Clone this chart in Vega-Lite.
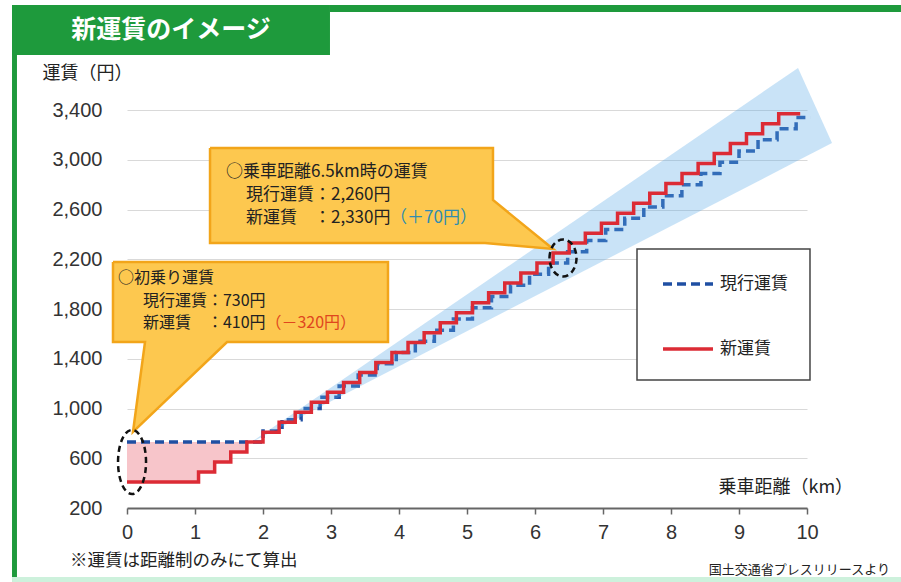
{
  "$schema": "https://vega.github.io/schema/vega-lite/v6.json",
  "width": 680,
  "height": 398,
  "autosize": {"type": "none"},
  "padding": {"left": 127, "top": 110, "right": 94, "bottom": 74},
  "background": "white",
  "config": {"view": {"stroke": null}},
  "datasets": {
    "red": [
      {"x":0,"y":410,"s":"新運賃"},{"x":1.052,"y":490,"s":"新運賃"},{"x":1.289,"y":570,"s":"新運賃"},{"x":1.526,"y":650,"s":"新運賃"},{"x":1.763,"y":730,"s":"新運賃"},{"x":2.0,"y":810,"s":"新運賃"},{"x":2.237,"y":890,"s":"新運賃"},{"x":2.474,"y":970,"s":"新運賃"},{"x":2.711,"y":1050,"s":"新運賃"},{"x":2.948,"y":1130,"s":"新運賃"},{"x":3.185,"y":1210,"s":"新運賃"},{"x":3.422,"y":1290,"s":"新運賃"},{"x":3.659,"y":1370,"s":"新運賃"},{"x":3.896,"y":1450,"s":"新運賃"},{"x":4.133,"y":1530,"s":"新運賃"},{"x":4.37,"y":1610,"s":"新運賃"},{"x":4.607,"y":1690,"s":"新運賃"},{"x":4.844,"y":1770,"s":"新運賃"},{"x":5.081,"y":1850,"s":"新運賃"},{"x":5.318,"y":1930,"s":"新運賃"},{"x":5.555,"y":2010,"s":"新運賃"},{"x":5.792,"y":2090,"s":"新運賃"},{"x":6.029,"y":2170,"s":"新運賃"},{"x":6.266,"y":2250,"s":"新運賃"},{"x":6.503,"y":2330,"s":"新運賃"},{"x":6.74,"y":2410,"s":"新運賃"},{"x":6.977,"y":2490,"s":"新運賃"},{"x":7.214,"y":2570,"s":"新運賃"},{"x":7.451,"y":2650,"s":"新運賃"},{"x":7.688,"y":2730,"s":"新運賃"},{"x":7.925,"y":2810,"s":"新運賃"},{"x":8.162,"y":2890,"s":"新運賃"},{"x":8.399,"y":2970,"s":"新運賃"},{"x":8.636,"y":3050,"s":"新運賃"},{"x":8.873,"y":3130,"s":"新運賃"},{"x":9.11,"y":3210,"s":"新運賃"},{"x":9.347,"y":3290,"s":"新運賃"},{"x":9.584,"y":3370,"s":"新運賃"},{"x":9.9,"y":3370,"s":"新運賃"}
    ],
    "blue": [
      {"x":0,"y":730,"s":"現行運賃"},{"x":2.0,"y":820,"s":"現行運賃"},{"x":2.28,"y":910,"s":"現行運賃"},{"x":2.56,"y":1000,"s":"現行運賃"},{"x":2.84,"y":1090,"s":"現行運賃"},{"x":3.12,"y":1180,"s":"現行運賃"},{"x":3.4,"y":1270,"s":"現行運賃"},{"x":3.68,"y":1360,"s":"現行運賃"},{"x":3.96,"y":1450,"s":"現行運賃"},{"x":4.24,"y":1540,"s":"現行運賃"},{"x":4.52,"y":1630,"s":"現行運賃"},{"x":4.8,"y":1720,"s":"現行運賃"},{"x":5.08,"y":1810,"s":"現行運賃"},{"x":5.36,"y":1900,"s":"現行運賃"},{"x":5.64,"y":1990,"s":"現行運賃"},{"x":5.92,"y":2080,"s":"現行運賃"},{"x":6.2,"y":2170,"s":"現行運賃"},{"x":6.48,"y":2260,"s":"現行運賃"},{"x":6.76,"y":2350,"s":"現行運賃"},{"x":7.04,"y":2440,"s":"現行運賃"},{"x":7.32,"y":2530,"s":"現行運賃"},{"x":7.6,"y":2620,"s":"現行運賃"},{"x":7.88,"y":2710,"s":"現行運賃"},{"x":8.16,"y":2800,"s":"現行運賃"},{"x":8.44,"y":2890,"s":"現行運賃"},{"x":8.72,"y":2980,"s":"現行運賃"},{"x":9.0,"y":3070,"s":"現行運賃"},{"x":9.28,"y":3160,"s":"現行運賃"},{"x":9.56,"y":3250,"s":"現行運賃"},{"x":9.84,"y":3340,"s":"現行運賃"},{"x":10.05,"y":3340,"s":"現行運賃"}
    ],
    "pink": [
      {"x":0,"y":410},{"x":1.052,"y":490},{"x":1.289,"y":570},{"x":1.526,"y":650},{"x":1.763,"y":730}
    ],
    "band": [
      {"x":1.8,"y":720,"y2":720},{"x":9.868,"y":2993,"y2":3738},{"x":10.368,"y":3135,"y2":3135}
    ],
    "callouts": [
      {"id":1,"i":0,"x":1.221,"y":3094.5},{"id":1,"i":1,"x":5.382,"y":3094.5},{"id":1,"i":2,"x":5.382,"y":2676.4},{"id":1,"i":3,"x":6.265,"y":2282.4},{"id":1,"i":4,"x":5.265,"y":2330.7},{"id":1,"i":5,"x":1.221,"y":2330.7},{"id":1,"i":6,"x":1.221,"y":3094.5},
      {"id":2,"i":0,"x":-0.206,"y":2178},{"id":2,"i":1,"x":3.838,"y":2178},{"id":2,"i":2,"x":3.838,"y":1534.7},{"id":2,"i":3,"x":1.471,"y":1534.7},{"id":2,"i":4,"x":0.088,"y":811.1},{"id":2,"i":5,"x":0.265,"y":1534.7},{"id":2,"i":6,"x":-0.206,"y":1534.7},{"id":2,"i":7,"x":-0.206,"y":2178}
    ],
    "legendBox": [{"x":7.5,"x2":10.044,"y":2282.4,"y2":1229.2}],
    "box1text": [
      {"x":1.456,"y":2901.5,"t":"○乗車距離6.5km時の運賃"},
      {"x":1.75,"y":2716.6,"t":"現行運賃：2,260円"},
      {"x":1.75,"y":2531.7,"t":"新運賃　：2,330円"}
    ],
    "box1plus": [{"x":3.868,"y":2531.7,"t":"（＋70円）"}],
    "box2text": [
      {"x":-0.132,"y":2049.2,"t":"○初乗り運賃"},
      {"x":0.235,"y":1864.4,"t":"現行運賃：730円"},
      {"x":0.235,"y":1687.5,"t":"新運賃　：410円"}
    ],
    "box2minus": [{"x":2.035,"y":1687.5,"t":"（－320円）"}],
    "ell1": [{"x":0.074,"y":570}],
    "ell2": [{"x":6.412,"y":2210}],
    "frameGreen": [
      {"x":-1.691,"x2":2.985,"y":3842,"y2":4244},
      {"x":2.985,"x2":11.5,"y":4188,"y2":4244},
      {"x":-1.691,"x2":-1.618,"y":-400,"y2":4244}
    ],
    "frameMint": [{"x":-1.691,"x2":11.5,"y":-400,"y2":-355}],
    "title": [{"x":0.647,"y":4043,"t":"新運賃のイメージ"}],
    "foot": [{"x":-0.838,"y":-226,"t":"※運賃は距離制のみにて算出"}],
    "source": [{"x":11.22,"y":-298,"t":"国土交通省プレスリリースより"}]
  },
  "encoding": {
    "x": {
      "field": "x", "type": "quantitative",
      "scale": {"domain": [0, 10], "nice": false, "zero": false},
      "axis": {
        "values": [0,0.5,1,1.5,2,2.5,3,3.5,4,4.5,5,5.5,6,6.5,7,7.5,8,8.5,9,9.5,10],
        "format": "d",
        "labelExpr": "datum.value % 1 === 0 ? format(datum.value, 'd') : ''",
        "labelOverlap": false, "labelFlush": false,
        "labelFont": "Liberation Sans", "labelFontSize": 20, "labelColor": "#333", "labelPadding": 8,
        "domainColor": "#666", "domainWidth": 2, "tickColor": "#666", "tickSize": 6, "tickWidth": 1.5,
        "grid": false,
        "title": "乗車距離（km）", "titleFont": "Noto Sans CJK JP", "titleFontSize": 18, "titleFontWeight": "normal", "titleColor": "#222",
        "titleAlign": "left", "titleBaseline": "middle", "titleX": 591, "titleY": -21, "titleAngle": 0
      }
    },
    "y": {
      "field": "y", "type": "quantitative",
      "scale": {"domain": [200, 3400], "nice": false, "zero": false},
      "axis": {
        "values": [200,600,1000,1400,1800,2200,2600,3000,3400],
        "format": ",.0f",
        "labelExpr": "format(datum.value, ',.0f')",
        "labelFont": "Liberation Sans", "labelFontSize": 20, "labelColor": "#333", "labelPadding": 25,
        "domain": false, "ticks": false, "tickSize": 0,
        "grid": true, "gridColor": "#d9d9d9", "gridWidth": 1,
        "title": "運賃（円）", "titleFont": "Noto Sans CJK JP", "titleFontSize": 18, "titleFontWeight": "normal", "titleColor": "#222",
        "titleAngle": 0, "titleAlign": "left", "titleBaseline": "middle", "titleX": -85, "titleY": -37
      }
    }
  },
  "layer": [
    {
      "data": {"name": "frameGreen"},
      "mark": {"type": "rect", "color": "#1e9a3c"},
      "encoding": {"x2": {"field": "x2"}, "y2": {"field": "y2"}}
    },
    {
      "data": {"name": "frameMint"},
      "mark": {"type": "rect", "color": "#cdf1dc"},
      "encoding": {"x2": {"field": "x2"}, "y2": {"field": "y2"}}
    },
    {
      "data": {"name": "title"},
      "mark": {"type": "text", "color": "white", "font": "Noto Sans CJK JP", "fontSize": 25, "fontWeight": "bold", "align": "center", "baseline": "middle"},
      "encoding": {"text": {"field": "t"}}
    },
    {
      "data": {"name": "foot"},
      "mark": {"type": "text", "color": "#222", "font": "Noto Sans CJK JP", "fontSize": 17.5, "align": "left", "baseline": "middle"},
      "encoding": {"text": {"field": "t"}}
    },
    {
      "data": {"name": "source"},
      "mark": {"type": "text", "color": "#222", "font": "Noto Sans CJK JP", "fontSize": 13, "align": "right", "baseline": "middle"},
      "encoding": {"text": {"field": "t"}}
    },
    {
      "data": {"name": "pink"},
      "mark": {"type": "area", "interpolate": "step-after", "color": "#f7c5ca"},
      "encoding": {"y2": {"datum": 730}}
    },
    {
      "data": {"name": "blue"},
      "mark": {"type": "line", "interpolate": "step-after", "strokeWidth": 3.5},
      "encoding": {
        "color": {"field": "s", "type": "nominal",
          "scale": {"domain": ["現行運賃", "新運賃"], "range": ["#1f4fa3", "#dc2b35"]},
          "legend": {"orient": "none", "legendX": 510, "legendY": 139, "title": null, "direction": "vertical",
            "padding": 8, "rowPadding": 30, "symbolOffset": 16,
            "symbolType": "stroke", "symbolSize": 2500, "symbolStrokeWidth": 3.5,
            "labelFont": "Noto Sans CJK JP", "labelFontSize": 17, "labelColor": "#222", "labelOffset": 5}},
        "strokeDash": {"field": "s", "type": "nominal",
          "scale": {"domain": ["現行運賃", "新運賃"], "range": [[9, 5], [1, 0]]},
          "legend": {"orient": "none", "legendX": 510, "legendY": 139, "title": null, "direction": "vertical",
            "padding": 8, "rowPadding": 30, "symbolOffset": 16,
            "symbolType": "stroke", "symbolSize": 2500, "symbolStrokeWidth": 3.5,
            "labelFont": "Noto Sans CJK JP", "labelFontSize": 17, "labelColor": "#222", "labelOffset": 5}}
      }
    },
    {
      "data": {"name": "band"},
      "mark": {"type": "area", "color": "#5aa9e6", "opacity": 0.33},
      "encoding": {"y2": {"field": "y2"}}
    },
    {
      "data": {"name": "red"},
      "mark": {"type": "line", "interpolate": "step-after", "strokeWidth": 3.5},
      "encoding": {
        "color": {"field": "s", "type": "nominal",
          "scale": {"domain": ["現行運賃", "新運賃"], "range": ["#1f4fa3", "#dc2b35"]}},
        "strokeDash": {"field": "s", "type": "nominal",
          "scale": {"domain": ["現行運賃", "新運賃"], "range": [[9, 5], [1, 0]]}}
      }
    },
    {
      "data": {"name": "legendBox"},
      "mark": {"type": "rect", "fill": "white", "stroke": "#444", "strokeWidth": 1.5},
      "encoding": {"x2": {"field": "x2"}, "y2": {"field": "y2"}}
    },
    {
      "data": {"name": "callouts"},
      "mark": {"type": "line", "interpolate": "linear", "fill": "#fdc84f", "stroke": "#f2a51a", "strokeWidth": 2.5, "strokeJoin": "miter"},
      "encoding": {"order": {"field": "i", "type": "quantitative"}, "detail": {"field": "id", "type": "nominal"}}
    },
    {
      "data": {"name": "box1text"},
      "mark": {"type": "text", "color": "#222", "font": "Noto Sans CJK JP", "fontSize": 17, "align": "left", "baseline": "middle"},
      "encoding": {"text": {"field": "t"}}
    },
    {
      "data": {"name": "box1plus"},
      "mark": {"type": "text", "color": "#2f8db0", "font": "Noto Sans CJK JP", "fontSize": 17, "align": "left", "baseline": "middle"},
      "encoding": {"text": {"field": "t"}}
    },
    {
      "data": {"name": "box2text"},
      "mark": {"type": "text", "color": "#222", "font": "Noto Sans CJK JP", "fontSize": 16, "align": "left", "baseline": "middle"},
      "encoding": {"text": {"field": "t"}}
    },
    {
      "data": {"name": "box2minus"},
      "mark": {"type": "text", "color": "#e0461e", "font": "Noto Sans CJK JP", "fontSize": 16, "align": "left", "baseline": "middle"},
      "encoding": {"text": {"field": "t"}}
    },
    {
      "data": {"name": "ell1"},
      "mark": {"type": "point", "shape": "M-1,0A1,2.29 0 1,1 1,0A1,2.29 0 1,1 -1,0Z", "size": 784, "filled": false, "stroke": "#111", "strokeWidth": 2.5, "strokeDash": [6, 4], "opacity": 1}
    },
    {
      "data": {"name": "ell2"},
      "mark": {"type": "point", "shape": "M-1,0A1,1.37 0 1,1 1,0A1,1.37 0 1,1 -1,0Z", "size": 729, "filled": false, "stroke": "#111", "strokeWidth": 2.5, "strokeDash": [6, 4], "opacity": 1}
    }
  ]
}
